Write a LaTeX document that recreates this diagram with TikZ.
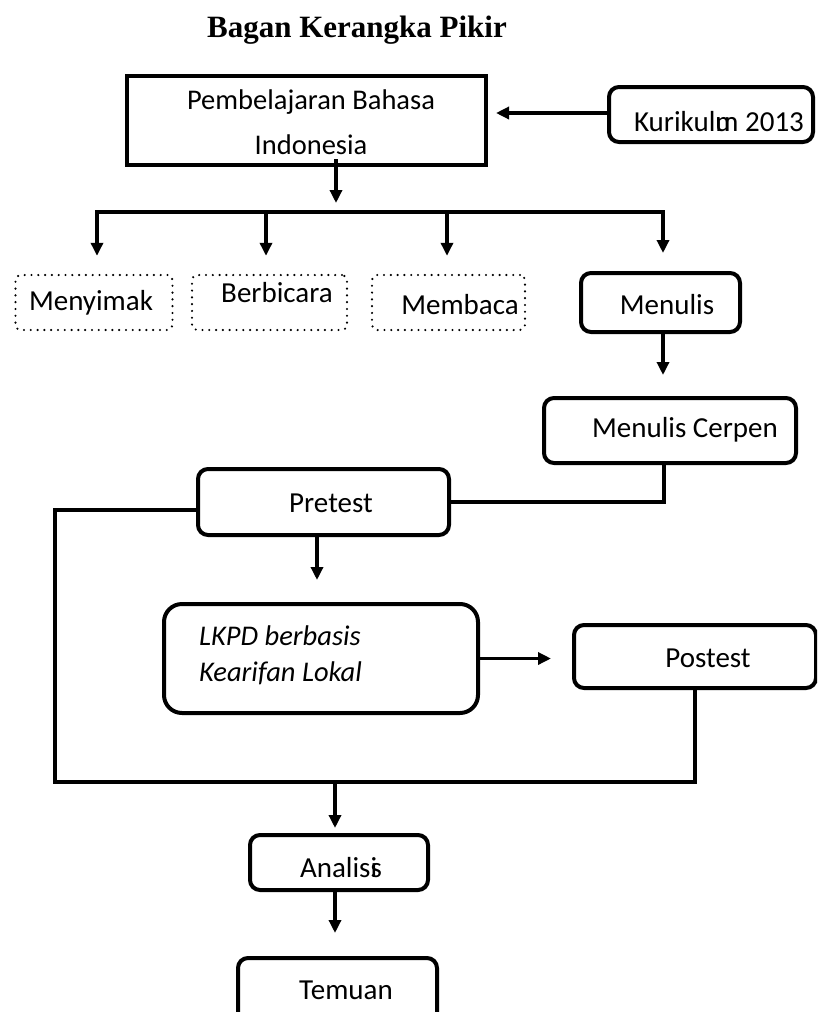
\documentclass[tikz,border=0pt]{standalone}
\usepackage{fontspec}
\setmainfont{Carlito}
\newfontfamily\titlefont{Liberation Serif}
\usetikzlibrary{arrows.meta}
\begin{document}
\begin{tikzpicture}[x=1pt,y=-1pt,
  conn/.style={line width=3.5pt},
  arr/.style={line width=3.5pt,-{Triangle[length=13pt,width=12pt]}},
  sbox/.style={draw,line width=4pt,inner sep=0pt},
  rbox/.style={draw,line width=4pt,rounded corners=10pt,inner sep=0pt},
  dbox/.style={draw,line width=2.4pt,dash pattern=on 0pt off 6.8pt,line cap=round,rounded corners=5pt,inner sep=0pt},
  lbl/.style={font=\fontsize{29}{34}\selectfont,inner sep=0pt},
]
\useasboundingbox (0,0) rectangle (817,1012);
\clip (0,0) rectangle (817,1012);

\node[inner sep=0pt,font=\titlefont\bfseries\fontsize{31}{36}\selectfont] (title) at (357,30) {Bagan Kerangka Pikir};

% top
\node[sbox,minimum width=359pt,minimum height=89pt] (pb) at (306.5,120.5) {};
\node[inner sep=0pt,align=center,font=\fontsize{28.5}{45}\selectfont] (pbt) at (311,122) {Pembelajaran Bahasa\\Indonesia};
\node[rbox,minimum width=204pt,minimum height=55pt] (kur) at (711,114.5) {};
\node[lbl] (kurt) at (719,122) {Kurikul\rlap{u}m 2013};
\draw[arr,shorten >=8pt] ([yshift=1.5pt]kur.west) -- ([yshift=1.5pt]kur.west -| pb.east);

% bar
\coordinate (bc) at (336,212);
\coordinate (b1) at (97,212);
\coordinate (b2) at (266,212);
\coordinate (b3) at (447,212);
\coordinate (b4) at (663,212);
\draw[arr,shorten >=9pt] ([xshift=29.5pt,yshift=8pt]pb.south) -- (bc);
\draw[conn] ([xshift=-1.75pt]b1) -- ([xshift=1.75pt]b4);

% four skills
\node[dbox,minimum width=157pt,minimum height=55pt] (my) at (94,302.5) {};
\node[lbl] (myt) at (91,303) {Menyimak};
\node[dbox,minimum width=155pt,minimum height=55pt] (bb) at (269.5,302.5) {};
\node[lbl] (bbt) at (277,293) {Berbicara};
\node[dbox,minimum width=153pt,minimum height=55pt] (mb) at (448.5,302.5) {};
\node[lbl] (mbt) at (460,305) {Membaca};
\node[rbox,minimum width=159pt,minimum height=59pt] (mn) at (660.5,302.5) {};
\node[lbl] (mnt) at (667,305) {Menulis};

\draw[arr,shorten >=18pt] (b1) -- (b1 |- my.north);
\draw[arr,shorten >=18pt] (b2) -- (b2 |- bb.north);
\draw[arr,shorten >=18pt] (b3) -- (b3 |- mb.north);
\draw[arr,shorten >=18pt] (b4) -- (b4 |- mn.north);

% menulis cerpen
\node[rbox,minimum width=252pt,minimum height=65pt] (mc) at (670,430.5) {};
\node[lbl] (mct) at (685,430) {Menulis Cerpen};
\draw[arr,shorten >=21pt] ([xshift=2.5pt]mn.south) -- ([xshift=2.5pt]mn.south |- mc.north);

% pretest
\node[rbox,minimum width=251pt,minimum height=66pt] (pr) at (323.5,502) {};
\node[lbl] (prt) at (331,503) {Pretest};
\draw[conn] ([xshift=-6pt]mc.south) |- (pr.east);

% LKPD
\node[rbox,rounded corners=18pt,minimum width=314pt,minimum height=109pt] (lk) at (321,658.5) {};
\node[inner sep=0pt,anchor=west,align=left,font=\itshape\fontsize{28.5}{36}\selectfont] (lkt) at (199,655) {LKPD berbasis\\Kearifan Lokal};
\draw[arr,shorten >=22pt] ([xshift=-6.5pt]pr.south) -- ([xshift=-6.5pt]pr.south |- lk.north);

% postest
\node[rbox,minimum width=242pt,minimum height=63pt] (po) at (695,656.5) {};
\node[lbl] (pot) at (708,658) {Postest};
\draw[arr,shorten >=21pt] (lk.east) -- (lk.east -| po.west);

% loop
\coordinate (lc) at (55,782);
\coordinate (bj) at (335,782);
\draw[conn] ([yshift=-8pt]pr.west) -| (lc) -| (po.south);

% analisis
\node[rbox,minimum width=178pt,minimum height=55pt] (an) at (339,862.5) {};
\node[lbl] (ant) at (341,868) {Analis\rlap{i}s};
\draw[arr,shorten >=5pt] (bj) -- (bj |- an.north);

% temuan
\node[rbox,minimum width=199pt,minimum height=67pt] (te) at (337.5,991.5) {};
\node[lbl] (tet) at (346,990) {Temuan};
\draw[arr,shorten >=23pt] ([xshift=-4pt]an.south) -- ([xshift=-4pt]an.south |- te.north);
\end{tikzpicture}
\end{document}
